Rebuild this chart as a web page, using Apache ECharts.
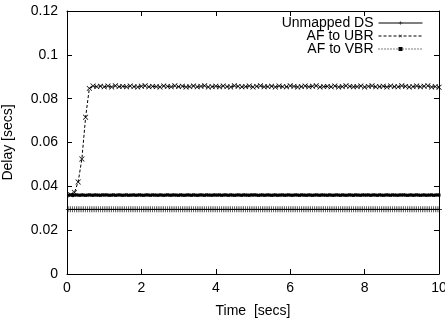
<!DOCTYPE html>
<html><head><meta charset="utf-8">
<script src="https://cdn.jsdelivr.net/npm/echarts@6/dist/echarts.min.js"></script>
<style>html,body{margin:0;padding:0;background:#fff}#c{width:445px;height:323px}</style>
</head><body><div id="c"></div>
<script>
// time samples (secs) for Unmapped DS and AF to VBR
var timesDense = [
0.05,0.1,0.15,0.2,0.25,0.3,0.35,0.4,0.45,0.5,0.55,0.6,0.65,0.7,0.75,0.8,0.85,0.9,0.95,1.0,
1.05,1.1,1.15,1.2,1.25,1.3,1.35,1.4,1.45,1.5,1.55,1.6,1.65,1.7,1.75,1.8,1.85,1.9,1.95,2.0,
2.05,2.1,2.15,2.2,2.25,2.3,2.35,2.4,2.45,2.5,2.55,2.6,2.65,2.7,2.75,2.8,2.85,2.9,2.95,3.0,
3.05,3.1,3.15,3.2,3.25,3.3,3.35,3.4,3.45,3.5,3.55,3.6,3.65,3.7,3.75,3.8,3.85,3.9,3.95,4.0,
4.05,4.1,4.15,4.2,4.25,4.3,4.35,4.4,4.45,4.5,4.55,4.6,4.65,4.7,4.75,4.8,4.85,4.9,4.95,5.0,
5.05,5.1,5.15,5.2,5.25,5.3,5.35,5.4,5.45,5.5,5.55,5.6,5.65,5.7,5.75,5.8,5.85,5.9,5.95,6.0,
6.05,6.1,6.15,6.2,6.25,6.3,6.35,6.4,6.45,6.5,6.55,6.6,6.65,6.7,6.75,6.8,6.85,6.9,6.95,7.0,
7.05,7.1,7.15,7.2,7.25,7.3,7.35,7.4,7.45,7.5,7.55,7.6,7.65,7.7,7.75,7.8,7.85,7.9,7.95,8.0,
8.05,8.1,8.15,8.2,8.25,8.3,8.35,8.4,8.45,8.5,8.55,8.6,8.65,8.7,8.75,8.8,8.85,8.9,8.95,9.0,
9.05,9.1,9.15,9.2,9.25,9.3,9.35,9.4,9.45,9.5,9.55,9.6,9.65,9.7,9.75,9.8,9.85,9.9,9.95,10.0
];
var unmappedDS = [
0.0295,0.0295,0.0295,0.0295,0.0295,0.0295,0.0295,0.0295,0.0295,0.0295,0.0295,0.0295,0.0295,0.0295,0.0295,0.0295,0.0295,0.0295,0.0295,0.0295,
0.0295,0.0295,0.0295,0.0295,0.0295,0.0295,0.0295,0.0295,0.0295,0.0295,0.0295,0.0295,0.0295,0.0295,0.0295,0.0295,0.0295,0.0295,0.0295,0.0295,
0.0295,0.0295,0.0295,0.0295,0.0295,0.0295,0.0295,0.0295,0.0295,0.0295,0.0295,0.0295,0.0295,0.0295,0.0295,0.0295,0.0295,0.0295,0.0295,0.0295,
0.0295,0.0295,0.0295,0.0295,0.0295,0.0295,0.0295,0.0295,0.0295,0.0295,0.0295,0.0295,0.0295,0.0295,0.0295,0.0295,0.0295,0.0295,0.0295,0.0295,
0.0295,0.0295,0.0295,0.0295,0.0295,0.0295,0.0295,0.0295,0.0295,0.0295,0.0295,0.0295,0.0295,0.0295,0.0295,0.0295,0.0295,0.0295,0.0295,0.0295,
0.0295,0.0295,0.0295,0.0295,0.0295,0.0295,0.0295,0.0295,0.0295,0.0295,0.0295,0.0295,0.0295,0.0295,0.0295,0.0295,0.0295,0.0295,0.0295,0.0295,
0.0295,0.0295,0.0295,0.0295,0.0295,0.0295,0.0295,0.0295,0.0295,0.0295,0.0295,0.0295,0.0295,0.0295,0.0295,0.0295,0.0295,0.0295,0.0295,0.0295,
0.0295,0.0295,0.0295,0.0295,0.0295,0.0295,0.0295,0.0295,0.0295,0.0295,0.0295,0.0295,0.0295,0.0295,0.0295,0.0295,0.0295,0.0295,0.0295,0.0295,
0.0295,0.0295,0.0295,0.0295,0.0295,0.0295,0.0295,0.0295,0.0295,0.0295,0.0295,0.0295,0.0295,0.0295,0.0295,0.0295,0.0295,0.0295,0.0295,0.0295,
0.0295,0.0295,0.0295,0.0295,0.0295,0.0295,0.0295,0.0295,0.0295,0.0295,0.0295,0.0295,0.0295,0.0295,0.0295,0.0295,0.0295,0.0295,0.0295,0.0295
];
var afToVBR = [
0.0360,0.0361,0.0359,0.0360,0.0361,0.0360,0.0359,0.0361,0.0360,0.0359,0.0360,0.0361,0.0360,0.0359,0.0361,0.0360,0.0360,0.0359,0.0361,0.0360,
0.0361,0.0360,0.0359,0.0360,0.0361,0.0359,0.0360,0.0361,0.0360,0.0359,0.0360,0.0361,0.0359,0.0360,0.0360,0.0361,0.0359,0.0360,0.0361,0.0360,
0.0359,0.0360,0.0361,0.0360,0.0359,0.0361,0.0360,0.0360,0.0359,0.0361,0.0360,0.0359,0.0360,0.0361,0.0360,0.0359,0.0361,0.0360,0.0360,0.0359,
0.0361,0.0360,0.0359,0.0360,0.0361,0.0360,0.0359,0.0361,0.0360,0.0359,0.0360,0.0361,0.0360,0.0359,0.0361,0.0360,0.0360,0.0359,0.0361,0.0360,
0.0360,0.0361,0.0359,0.0360,0.0361,0.0360,0.0359,0.0361,0.0360,0.0359,0.0360,0.0361,0.0360,0.0359,0.0361,0.0360,0.0360,0.0359,0.0361,0.0360,
0.0361,0.0360,0.0359,0.0360,0.0361,0.0359,0.0360,0.0361,0.0360,0.0359,0.0360,0.0361,0.0359,0.0360,0.0360,0.0361,0.0359,0.0360,0.0361,0.0360,
0.0359,0.0360,0.0361,0.0360,0.0359,0.0361,0.0360,0.0360,0.0359,0.0361,0.0360,0.0359,0.0360,0.0361,0.0360,0.0359,0.0361,0.0360,0.0360,0.0359,
0.0361,0.0360,0.0359,0.0360,0.0361,0.0360,0.0359,0.0361,0.0360,0.0359,0.0360,0.0361,0.0360,0.0359,0.0361,0.0360,0.0360,0.0359,0.0361,0.0360,
0.0360,0.0361,0.0359,0.0360,0.0361,0.0360,0.0359,0.0361,0.0360,0.0359,0.0360,0.0361,0.0360,0.0359,0.0361,0.0360,0.0360,0.0359,0.0361,0.0360,
0.0361,0.0360,0.0359,0.0360,0.0361,0.0359,0.0360,0.0361,0.0360,0.0359,0.0360,0.0361,0.0359,0.0360,0.0360,0.0361,0.0359,0.0360,0.0361,0.0360
];
// time samples (secs) for AF to UBR
var timesUBR = [
0.1,0.2,0.3,0.4,0.5,0.6,0.7,0.8,0.9,1.0,1.1,1.2,1.3,1.4,1.5,1.6,1.7,1.8,1.9,2.0,
2.1,2.2,2.3,2.4,2.5,2.6,2.7,2.8,2.9,3.0,3.1,3.2,3.3,3.4,3.5,3.6,3.7,3.8,3.9,4.0,
4.1,4.2,4.3,4.4,4.5,4.6,4.7,4.8,4.9,5.0,5.1,5.2,5.3,5.4,5.5,5.6,5.7,5.8,5.9,6.0,
6.1,6.2,6.3,6.4,6.5,6.6,6.7,6.8,6.9,7.0,7.1,7.2,7.3,7.4,7.5,7.6,7.7,7.8,7.9,8.0,
8.1,8.2,8.3,8.4,8.5,8.6,8.7,8.8,8.9,9.0,9.1,9.2,9.3,9.4,9.5,9.6,9.7,9.8,9.9,10.0
];
var afToUBR = [
0.0362,0.0372,0.0420,0.0525,0.0715,0.0847,0.0858,0.0855,0.0857,0.0854,0.0858,0.0853,0.0859,0.0855,0.0856,0.0854,0.0858,0.0855,0.0853,0.0857,
0.0859,0.0854,0.0856,0.0855,0.0853,0.0858,0.0856,0.0854,0.0859,0.0855,0.0857,0.0853,0.0855,0.0858,0.0854,0.0856,0.0859,0.0853,0.0855,0.0857,
0.0854,0.0858,0.0855,0.0853,0.0859,0.0856,0.0854,0.0855,0.0858,0.0853,0.0856,0.0859,0.0854,0.0855,0.0857,0.0853,0.0858,0.0855,0.0854,0.0859,
0.0856,0.0853,0.0855,0.0858,0.0854,0.0857,0.0859,0.0853,0.0855,0.0856,0.0854,0.0858,0.0853,0.0855,0.0859,0.0856,0.0854,0.0855,0.0858,0.0853,
0.0856,0.0859,0.0854,0.0855,0.0857,0.0853,0.0858,0.0855,0.0854,0.0859,0.0856,0.0853,0.0855,0.0858,0.0854,0.0857,0.0859,0.0853,0.0855,0.0852
];
var seriesNames = ['Unmapped DS', 'AF to UBR', 'AF to VBR'];
var xTicks = [0, 2, 4, 6, 8, 10];
var yTicks = [0, 0.02, 0.04, 0.06, 0.08, 0.1, 0.12];

function zip(xs, ys) { return xs.map(function (x, i) { return [x, ys[i]]; }); }
var PLUS = 'path://M4.5,0h1v10h-1z M0,4.5h10v1h-10z';
var FONT = 'Liberation Sans';
var FS = 14;

var chart = echarts.init(document.getElementById('c'), null, {renderer: 'canvas'});
var axisCommon = {
  type: 'value', splitLine: {show: false},
  axisLine: {show: true, onZero: false, lineStyle: {color: '#000', width: 1}},
  axisTick: {show: true, inside: true, length: 5, lineStyle: {color: '#000'}},
  axisLabel: {color: '#000', fontFamily: FONT, fontSize: FS}
};
function legendRow(name, top) {
  return {
    orient: 'vertical', right: 22, top: top, align: 'right', padding: 0,
    itemWidth: 44, itemHeight: 5, itemGap: 0,
    data: [name],
    lineStyle: {width: 1},
    textStyle: {color: '#000', fontFamily: FONT, fontSize: FS}
  };
}
chart.setOption({
  animation: false,
  backgroundColor: '#fff',
  grid: {left: 67, right: 6, top: 11, bottom: 49, containLabel: false, outerBoundsMode: 'none'},
  legend: [legendRow(seriesNames[0], 16), legendRow(seriesNames[1], 29), legendRow(seriesNames[2], 42)],
  xAxis: [
    Object.assign({}, axisCommon, {
      position: 'bottom', min: xTicks[0], max: xTicks[xTicks.length - 1], interval: 2,
      name: 'Time  [secs]', nameLocation: 'middle', nameGap: 30,
      nameTextStyle: {color: '#000', fontFamily: FONT, fontSize: FS},
      axisLabel: Object.assign({}, axisCommon.axisLabel, {margin: 7})
    }),
    Object.assign({}, axisCommon, {
      position: 'top', min: xTicks[0], max: xTicks[xTicks.length - 1], interval: 2,
      axisLabel: {show: false}
    })
  ],
  yAxis: [
    Object.assign({}, axisCommon, {
      position: 'left', min: yTicks[0], max: yTicks[yTicks.length - 1], interval: 0.02,
      name: 'Delay [secs]', nameLocation: 'middle', nameGap: 52,
      nameTextStyle: {color: '#000', fontFamily: FONT, fontSize: FS},
      axisLabel: Object.assign({}, axisCommon.axisLabel, {margin: 9,
        formatter: function (v) { return String(+v.toFixed(2)); }})
    }),
    Object.assign({}, axisCommon, {
      position: 'right', min: yTicks[0], max: yTicks[yTicks.length - 1], interval: 0.02,
      axisLabel: {show: false}
    })
  ],
  series: [
    {
      name: seriesNames[0], type: 'line', data: zip(timesDense, unmappedDS),
      symbol: PLUS, symbolSize: 6, showAllSymbol: true,
      lineStyle: {color: '#000', width: 1},
      itemStyle: {color: '#000'}
    },
    {
      name: seriesNames[1], type: 'line', data: zip(timesUBR, afToUBR),
      symbol: PLUS, symbolSize: 7, symbolRotate: 45, showAllSymbol: true,
      lineStyle: {color: '#000', width: 1, type: [3, 2]},
      itemStyle: {color: '#000'}
    },
    {
      name: seriesNames[2], type: 'line', data: zip(timesDense, afToVBR),
      symbol: 'rect', symbolSize: 3, showAllSymbol: true,
      lineStyle: {color: '#000', width: 1, type: [1, 2]},
      itemStyle: {color: '#000'}
    }
  ]
});
</script></body></html>
